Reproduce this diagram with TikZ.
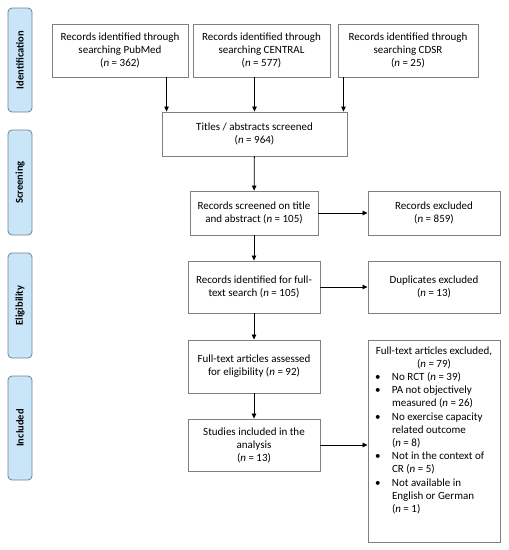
\documentclass[tikz,border=0pt]{standalone}
\usepackage{fontspec}
\setmainfont{Carlito}
\usetikzlibrary{arrows.meta,positioning}
\definecolor{stageblue}{HTML}{C9E6F8}
\definecolor{stageedge}{HTML}{6F8293}
\definecolor{boxedge}{HTML}{808080}
\newcommand{\exitem}[1]{\par\hangindent=21pt\hangafter=1\noindent\makebox[21pt][l]{\hspace{4pt}\textbullet}#1}
\tikzset{
  box/.style={draw=boxedge, line width=0.9pt, align=center, inner sep=2pt, font=\fontsize{11}{13}\selectfont},
  stage/.style={draw=stageedge, fill=stageblue, rounded corners=4pt, rotate=90, minimum height=24pt, line width=0.8pt, font=\fontsize{10.5}{12}\selectfont\bfseries},
  flow/.style={-{Triangle[length=5pt,width=4.5pt]}, line width=0.8pt}
}

\begin{document}
\begin{tikzpicture}[x=1pt, y=-1pt]
\useasboundingbox (0,0) rectangle (509,550);
% stages
\node[stage, minimum width=104pt] (ident) at (20,60) {Identification};
\node[stage, minimum width=105pt] (screen) at (20,182.5) {Screening};
\node[stage, minimum width=105pt] (elig) at (20,305.5) {Eligibility};
\node[stage, minimum width=104pt] (incl) at (20,428) {Included};
% sources
\node[box, minimum width=136pt, minimum height=53pt] (pubmed) at (120,50.5) {Records identified through\\searching PubMed\\(\textit{n} = 362)};
\node[box, minimum width=137pt, minimum height=53pt] (central) at (261.5,50.5) {Records identified through\\searching CENTRAL\\(\textit{n} = 577)};
\node[box, minimum width=140pt, minimum height=53pt] (cdsr) at (408,50.5) {Records identified through\\searching CDSR\\(\textit{n} = 25)};
% main column
\node[box, minimum width=185pt, minimum height=44pt] (titles) at (254.5,134) {Titles / abstracts screened\\(\textit{n} = 964)};
\node[box, minimum width=128pt, minimum height=44pt] (screened) at (254,213) {Records screened on title\\and abstract (\textit{n} = 105)};
\node[box, minimum width=132pt, minimum height=52pt] (fulltext) at (254,287) {Records identified for full-\\text search (\textit{n} = 105)};
\node[box, minimum width=132pt, minimum height=53pt] (assessed) at (254,366.5) {Full-text articles assessed\\for eligibility (\textit{n} = 92)};
\node[box, minimum width=132pt, minimum height=52pt] (studies) at (254,445) {Studies included in the\\analysis\\(\textit{n} = 13)};
% exclusions
\node[box, minimum width=132pt, minimum height=44pt] (recexcl) at (434,213) {Records excluded\\(\textit{n} = 859)};
\node[box, minimum width=132pt, minimum height=52pt] (dupl) at (434,287) {Duplicates excluded\\(\textit{n} = 13)};
\node[box, anchor=north, inner xsep=3pt, inner ysep=6pt, font=\fontsize{11}{13.2}\selectfont] (ftexcl) at (434,340) {\parbox[c][190pt][t]{126pt}{\centering Full-text articles excluded,\\(\textit{n} = 79)\par\raggedright
\exitem{No RCT (\textit{n} = 39)}
\exitem{PA not objectively\newline measured (\textit{n} = 26)}
\exitem{No exercise capacity\newline related outcome\newline (\textit{n} = 8)}
\exitem{Not in the context of\newline CR (\textit{n} = 5)}
\exitem{Not available in\newline English or German\newline (\textit{n} = 1)}}};
% arrows
\draw[flow] ([xshift=5pt]titles.north west |- pubmed.south) -- ([xshift=5pt]titles.north west);
\draw[flow] (titles.north |- central.south) -- (titles.north);
\draw[flow] ([xshift=-4pt]titles.north east |- cdsr.south) -- ([xshift=-4pt]titles.north east);
\draw[flow] (titles) -- (screened);
\draw[flow] (screened) -- (recexcl);
\draw[flow] (screened) -- (fulltext);
\draw[flow] (fulltext) -- (dupl);
\draw[flow] (fulltext) -- (assessed);
\draw[flow] (assessed) -- (studies);
\draw[flow] (studies.east) -- (studies.east -| ftexcl.west);
\end{tikzpicture}
\end{document}
